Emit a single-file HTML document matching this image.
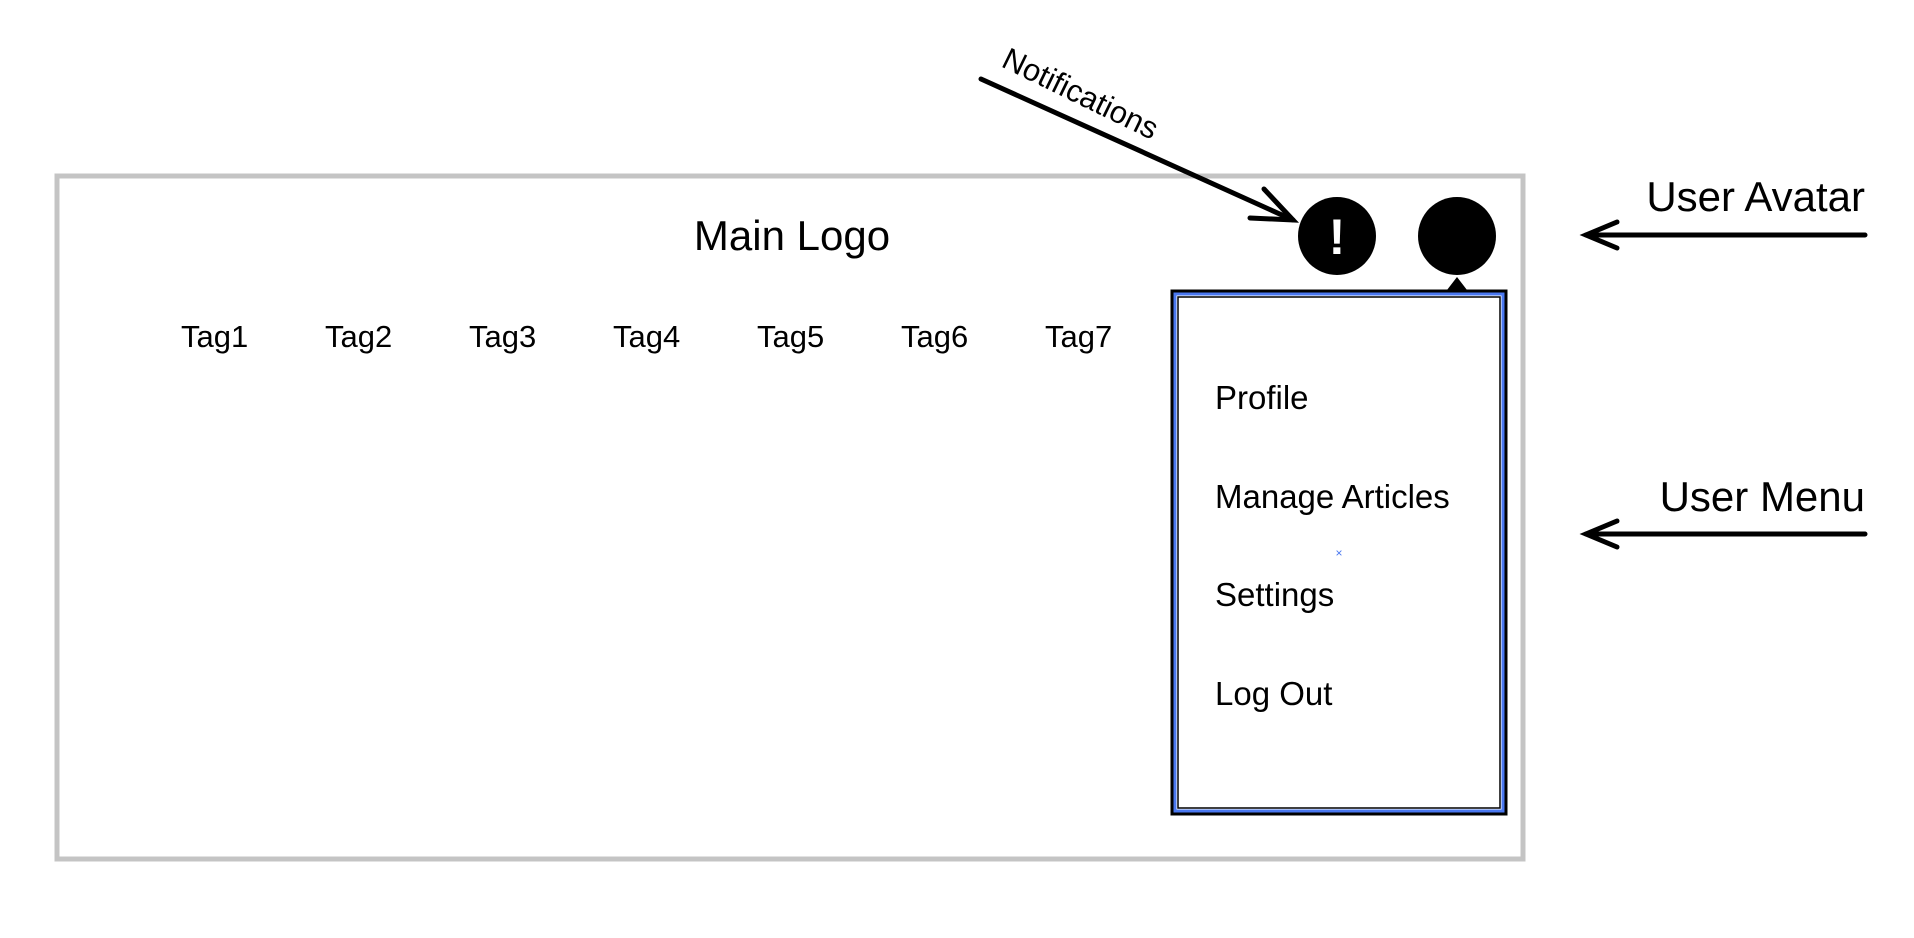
<!DOCTYPE html>
<html><head><style>
html,body{margin:0;padding:0;background:#fff;}
body{width:1914px;height:938px;overflow:hidden;position:relative;font-family:"Liberation Sans",sans-serif;}
</style></head><body>
<svg width="1914" height="938" viewBox="0 0 1914 938" xmlns="http://www.w3.org/2000/svg" style="position:absolute;left:0;top:0">
<rect x="57" y="176" width="1466" height="683" fill="none" stroke="#c4c4c4" stroke-width="5"/>
<text x="792" y="250" font-size="42" text-anchor="middle" font-family="Liberation Sans, sans-serif">Main Logo</text>
<g font-size="31" font-family="Liberation Sans, sans-serif">
<text x="181" y="347">Tag1</text>
<text x="325" y="347">Tag2</text>
<text x="469" y="347">Tag3</text>
<text x="613" y="347">Tag4</text>
<text x="757" y="347">Tag5</text>
<text x="901" y="347">Tag6</text>
<text x="1045" y="347">Tag7</text>
</g>
<ellipse cx="1337" cy="236" rx="39" ry="39" fill="#000"/>
<text x="1337" y="254" font-size="50" font-weight="bold" fill="#fff" text-anchor="middle" font-family="Liberation Sans, sans-serif">!</text>
<ellipse cx="1457" cy="236" rx="39" ry="39" fill="#000"/>
<polygon points="1447,290 1457,277 1467,290" fill="#000"/>
<rect x="1172" y="291" width="334" height="523" fill="#fff" stroke="#000" stroke-width="3"/>
<rect x="1175" y="294" width="328" height="517" fill="none" stroke="#4a78f0" stroke-width="3"/>
<rect x="1178" y="297" width="322" height="511" fill="none" stroke="#000" stroke-width="1.5"/>
<g font-size="33" font-family="Liberation Sans, sans-serif">
<text x="1215" y="409">Profile</text>
<text x="1215" y="508">Manage Articles</text>
<text x="1215" y="606">Settings</text>
<text x="1215" y="705">Log Out</text>
</g>
<text x="1339" y="557" font-size="12" fill="#4a78f0" text-anchor="middle">×</text>
<g stroke="#000" stroke-width="5" stroke-linecap="round" fill="none">
<line x1="981" y1="79" x2="1293" y2="220"/>
<polyline points="1264,189 1293,220 1250,218"/>
<line x1="1865" y1="235" x2="1586" y2="235"/>
<polyline points="1617,222 1586,235 1617,248"/>
<line x1="1865" y1="534" x2="1586" y2="534"/>
<polyline points="1617,521 1586,534 1617,547"/>
</g>
<text x="1000" y="66" font-size="31" transform="rotate(26 1000 66)" font-family="Liberation Sans, sans-serif">Notifications</text>
<text x="1865" y="211" font-size="42" text-anchor="end" font-family="Liberation Sans, sans-serif">User Avatar</text>
<text x="1865" y="511" font-size="42" text-anchor="end" font-family="Liberation Sans, sans-serif">User Menu</text>
</svg>
</body></html>
